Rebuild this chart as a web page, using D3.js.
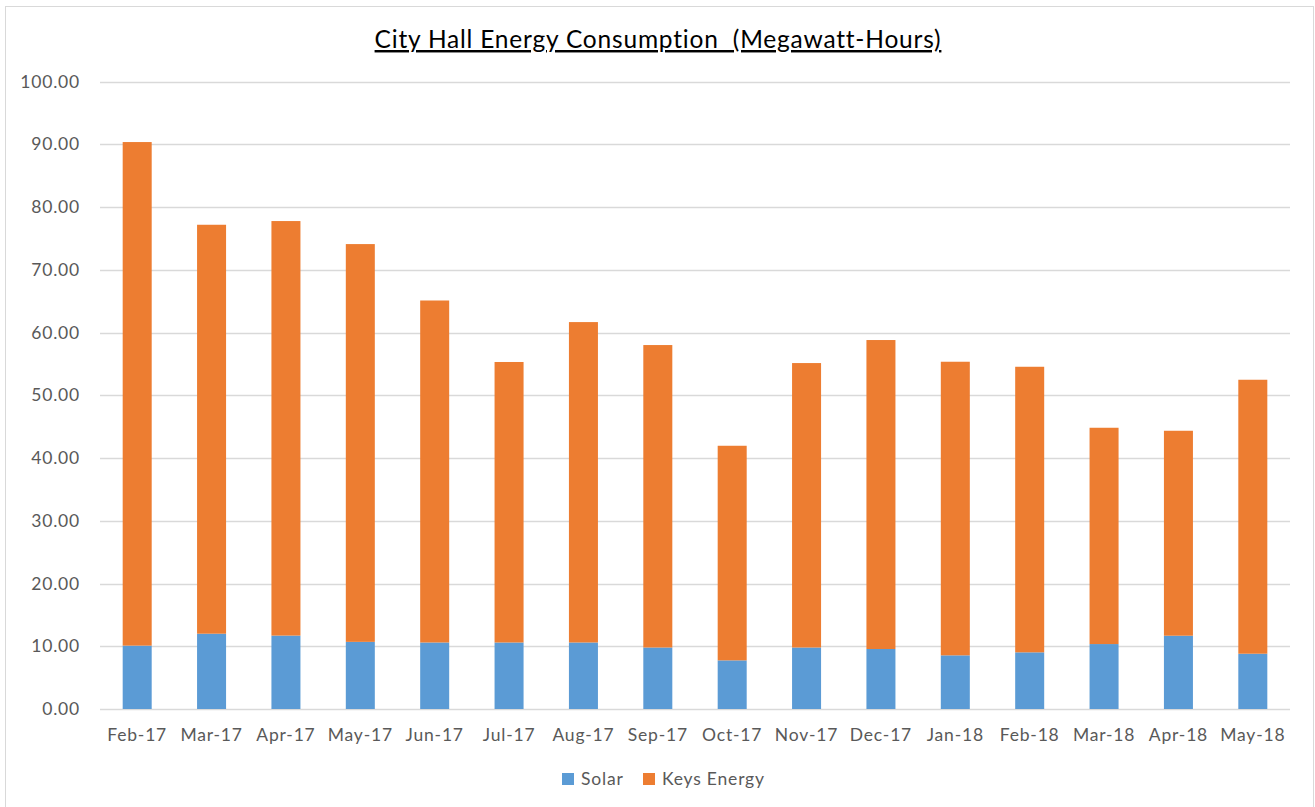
<!DOCTYPE html>
<html>
<head>
<meta charset="utf-8">
<script src="https://cdn.jsdelivr.net/npm/d3@7"></script>
<style>
  body { margin: 0; background: #fff; }
  svg { display: block; font-family: Lato, "Open Sans", sans-serif; }
</style>
</head>
<body>
<div id="chart"></div>
<script>
const months = ["Feb-17", "Mar-17", "Apr-17", "May-17", "Jun-17", "Jul-17", "Aug-17", "Sep-17",
  "Oct-17", "Nov-17", "Dec-17", "Jan-18", "Feb-18", "Mar-18", "Apr-18", "May-18"];

// solar share and the Keys Energy share on top of it (MWh)
const solar = [10.1, 12.0, 11.7, 10.7, 10.6, 10.6, 10.6, 9.8, 7.75, 9.8, 9.56, 8.55, 9.03, 10.35, 11.68, 8.81];
const keysEnergy = [80.25, 65.17, 66.06, 63.39, 54.5, 44.7, 51.06, 48.2, 34.2, 45.33, 49.24, 46.79, 45.51, 34.47, 32.66, 43.66];

const yTicks = [0, 10, 20, 30, 40, 50, 60, 70, 80, 90, 100];

const seriesNames = ["Solar", "Keys Energy"];
const seriesColors = ["#5b9bd5", "#ed7d31"];

function renderChart() {
  const width = 1315, height = 807;
  const margin = { top: 81.5, right: 25, bottom: 98, left: 100 };

  const svg = d3.select("#chart").append("svg")
    .attr("width", width)
    .attr("height", height);

  // outer chart border
  svg.append("rect")
    .attr("x", 5.5).attr("y", 6.5)
    .attr("width", width - 7).attr("height", height - 6)
    .attr("fill", "#fff")
    .attr("stroke", "#d9d9d9");

  const rows = months.map((m, i) => ({ month: m, Solar: solar[i], "Keys Energy": keysEnergy[i] }));
  const stacked = d3.stack().keys(seriesNames)(rows);

  const x = d3.scaleBand()
    .domain(months)
    .range([margin.left, width - margin.right])
    .paddingInner(0.61)
    .paddingOuter(0.305);

  const y = d3.scaleLinear()
    .domain([0, 100])
    .range([height - margin.bottom, margin.top]);

  // gridlines
  svg.append("g")
    .selectAll("line")
    .data(yTicks)
    .join("line")
    .attr("x1", margin.left)
    .attr("x2", width - margin.right)
    .attr("y1", d => Math.round(y(d)) + 0.5)
    .attr("y2", d => Math.round(y(d)) + 0.5)
    .attr("stroke", "#d9d9d9")
    .attr("stroke-width", 1.3);

  // y tick labels
  svg.append("g")
    .selectAll("text")
    .data(yTicks)
    .join("text")
    .attr("x", 80)
    .attr("y", d => y(d))
    .attr("dy", "0.35em")
    .attr("text-anchor", "end")
    .attr("font-size", 17.5)
    .attr("letter-spacing", 0.8)
    .attr("fill", "#595959")
    .text(d => d.toFixed(2));

  // bars
  svg.append("g")
    .selectAll("g")
    .data(stacked)
    .join("g")
    .attr("fill", (d, i) => seriesColors[i])
    .selectAll("rect")
    .data(d => d)
    .join("rect")
    .attr("x", d => x(d.data.month))
    .attr("width", x.bandwidth())
    .attr("y", d => y(d[1]))
    .attr("height", d => y(d[0]) - y(d[1]));

  // x axis labels
  svg.append("g")
    .selectAll("text")
    .data(months)
    .join("text")
    .attr("x", d => x(d) + x.bandwidth() / 2)
    .attr("y", 741)
    .attr("text-anchor", "middle")
    .attr("font-size", 17.5)
    .attr("letter-spacing", 0.8)
    .attr("fill", "#595959")
    .text(d => d);

  // title
  svg.append("text")
    .attr("x", 658)
    .attr("y", 48)
    .attr("text-anchor", "middle")
    .attr("font-size", 24.5)
    .attr("letter-spacing", 0.8)
    .attr("fill", "#000")
    .style("text-decoration", "underline")
    .style("white-space", "pre")
    .text("City Hall Energy Consumption  (Megawatt-Hours)");

  // legend
  const legendItems = [
    { name: "Solar", x: 562 },
    { name: "Keys Energy", x: 643 }
  ];
  const legend = svg.append("g")
    .selectAll("g")
    .data(legendItems)
    .join("g")
    .attr("transform", d => `translate(${d.x}, 773)`);

  legend.append("rect")
    .attr("width", 12).attr("height", 12)
    .attr("fill", (d, i) => seriesColors[i]);

  legend.append("text")
    .attr("x", 19)
    .attr("y", 6)
    .attr("dy", "0.35em")
    .attr("font-size", 17.5)
    .attr("letter-spacing", 0.8)
    .attr("fill", "#595959")
    .text(d => d.name);
}

renderChart();
</script>
</body>
</html>
